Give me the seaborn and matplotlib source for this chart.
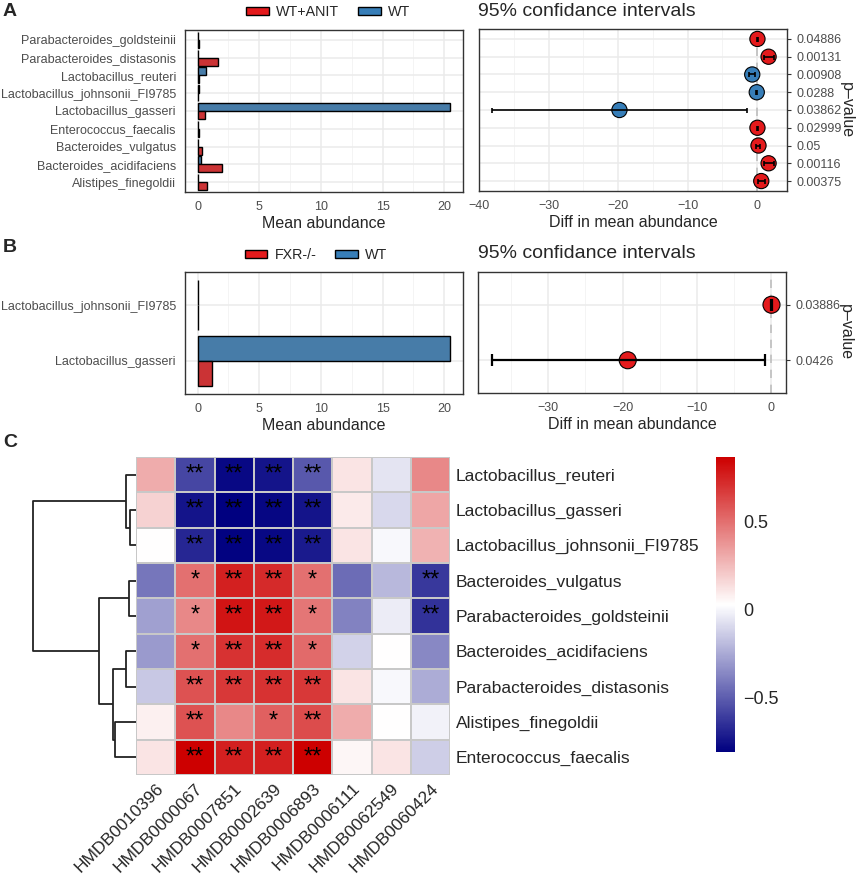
import numpy as np
import pandas as pd
import matplotlib
matplotlib.use('Agg')
import matplotlib.pyplot as plt
import seaborn as sns
from matplotlib.colors import LinearSegmentedColormap
from matplotlib.patches import Patch
from matplotlib.ticker import MultipleLocator

RED = '#E41A1C'
BLUE = '#377EB8'

# ---- panel A: WT+ANIT vs WT
taxa_a = ['Parabacteroides_goldsteinii', 'Parabacteroides_distasonis', 'Lactobacillus_reuteri',
          'Lactobacillus_johnsonii_FI9785', 'Lactobacillus_gasseri', 'Enterococcus_faecalis',
          'Bacteroides_vulgatus', 'Bacteroides_acidifaciens', 'Alistipes_finegoldii']
anit_mean = [0.10, 1.65, 0.15, 0.05, 0.60, 0.15, 0.32, 2.00, 0.75]
wt_mean_a = [0.03, 0.05, 0.68, 0.08, 20.5, 0.03, 0.05, 0.30, 0.03]
diff_a = [0.05, 1.65, -0.70, -0.05, -19.8, 0.05, 0.20, 1.65, 0.60]
lo_a = [-0.05, 0.95, -1.15, -0.12, -38.2, -0.05, -0.10, 0.95, 0.20]
hi_a = [0.15, 2.45, -0.25, 0.03, -1.5, 0.15, 0.45, 2.45, 1.15]
pcol_a = ['WT+ANIT', 'WT+ANIT', 'WT', 'WT', 'WT', 'WT+ANIT', 'WT+ANIT', 'WT+ANIT', 'WT+ANIT']
pval_a = ['0.04886', '0.00131', '0.00908', '0.0288', '0.03862', '0.02999', '0.05', '0.00116', '0.00375']

# ---- panel B: FXR-/- vs WT
taxa_b = ['Lactobacillus_johnsonii_FI9785', 'Lactobacillus_gasseri']
fxr_mean = [0.05, 1.2]
wt_mean_b = [0.05, 20.5]
diff_b = [0.0, -19.3]
lo_b = [-0.05, -37.5]
hi_b = [0.05, -0.9]
pcol_b = ['FXR-/-', 'FXR-/-']
pval_b = ['0.03886', '0.0426']

# ---- panel C: correlation heatmap
rows_c = ['Lactobacillus_reuteri', 'Lactobacillus_gasseri', 'Lactobacillus_johnsonii_FI9785',
          'Bacteroides_vulgatus', 'Parabacteroides_goldsteinii', 'Bacteroides_acidifaciens',
          'Parabacteroides_distasonis', 'Alistipes_finegoldii', 'Enterococcus_faecalis']
cols_c = ['HMDB0010396', 'HMDB0000067', 'HMDB0007851', 'HMDB0002639',
          'HMDB0006893', 'HMDB0006111', 'HMDB0062549', 'HMDB0060424']
corr_c = [
    [0.30, -0.58, -0.78, -0.74, -0.52, 0.12, -0.06, 0.42],
    [0.18, -0.74, -0.81, -0.79, -0.74, 0.10, -0.10, 0.32],
    [0.03, -0.68, -0.80, -0.78, -0.72, 0.12, 0.01, 0.28],
    [-0.42, 0.50, 0.76, 0.73, 0.50, -0.45, -0.20, -0.62],
    [-0.28, 0.42, 0.80, 0.79, 0.48, -0.38, -0.03, -0.64],
    [-0.30, 0.50, 0.70, 0.72, 0.52, -0.12, 0.03, -0.36],
    [-0.15, 0.60, 0.68, 0.70, 0.68, 0.12, 0.01, -0.24],
    [0.08, 0.60, 0.42, 0.55, 0.62, 0.30, 0.03, -0.01],
    [0.12, 0.87, 0.76, 0.76, 0.87, 0.06, 0.12, -0.13],
]
stars_c = [
    ['', '**', '**', '**', '**', '', '', ''],
    ['', '**', '**', '**', '**', '', '', ''],
    ['', '**', '**', '**', '**', '', '', ''],
    ['', '*', '**', '**', '*', '', '', '**'],
    ['', '*', '**', '**', '*', '', '', '**'],
    ['', '*', '**', '**', '*', '', '', ''],
    ['', '**', '**', '**', '**', '', '', ''],
    ['', '**', '', '*', '**', '', '', ''],
    ['', '**', '**', '**', '**', '', '', ''],
]
# row clustering: (left, right, height); ids >= 9 refer to earlier merges
merges_c = [(1, 2, 0.06), (0, 9, 0.10), (3, 4, 0.07), (5, 6, 0.10),
            (7, 8, 0.20), (12, 13, 0.22), (11, 14, 0.36), (10, 15, 1.0)]

sns.set_style('white')
plt.rcParams['font.family'] = ['Liberation Sans', 'DejaVu Sans']

W, H = 858, 876
fig = plt.figure(figsize=(W / 100, H / 100), dpi=100)


def box(x0, y0, x1, y1):
    return [x0 / W, 1 - y1 / H, (x1 - x0) / W, (y1 - y0) / H]


def gg_style(ax, minor):
    for s in ax.spines.values():
        s.set_color('#333333')
        s.set_linewidth(1.0)
    ax.xaxis.set_minor_locator(MultipleLocator(minor))
    ax.grid(True, which='major', color='#EBEBEB', lw=1.1)
    ax.grid(True, which='minor', axis='x', color='#F2F2F2', lw=0.6)
    ax.set_axisbelow(True)
    ax.tick_params(which='major', colors='#333333', labelcolor='#4D4D4D', length=3, width=0.8, labelsize=9)
    ax.tick_params(which='minor', length=0)


def bar_panel(rect, taxa, case_vals, wt_vals, case_name):
    ax = fig.add_axes(box(*rect))
    n = len(taxa)
    df = pd.DataFrame({'taxon': taxa * 2,
                       'group': [case_name] * n + ['WT'] * n,
                       'abundance': case_vals + wt_vals})
    sns.barplot(data=df, x='abundance', y='taxon', hue='group', order=taxa,
                hue_order=['WT', case_name], palette={'WT': BLUE, case_name: RED},
                orient='h', width=0.9, edgecolor='black', linewidth=1.0,
                errorbar=None, legend=False, ax=ax)
    gg_style(ax, 2.5)
    ax.set_xlim(-1.025, 21.525)
    pad = 0.56 if n > 2 else 0.59
    ax.set_ylim(n - 1 + pad, -pad)
    ax.xaxis.set_major_locator(MultipleLocator(5))
    ax.set_xlabel('Mean abundance', fontsize=11.5, labelpad=2)
    ax.set_ylabel('')
    ax.tick_params(axis='y', labelsize=9)
    return ax


def ci_panel(rect, taxa, diff, lo, hi, groups, pvals, xlim, msize, capsize, elw):
    ax = fig.add_axes(box(*rect))
    ypos = np.arange(len(taxa))
    gg_style(ax, 5)
    ax.axvline(0, color='#BEBEBE', ls=(0, (5, 4)), lw=1.2, zorder=1)
    sns.scatterplot(x=diff, y=ypos, hue=groups, palette={'WT': BLUE, 'WT+ANIT': RED, 'FXR-/-': RED},
                    s=msize, edgecolor='black', linewidth=0.8, legend=False, zorder=3, ax=ax)
    ax.errorbar(diff, ypos, xerr=[np.array(diff) - np.array(lo), np.array(hi) - np.array(diff)],
                fmt='none', ecolor='black', elinewidth=elw, capsize=capsize, capthick=elw, zorder=4)
    ax.set_xlim(*xlim)
    pad = 0.56 if len(taxa) > 2 else 0.59
    ax.set_ylim(len(taxa) - 1 + pad, -pad)
    ax.xaxis.set_major_locator(MultipleLocator(10))
    ax.set_yticks(ypos)
    ax.yaxis.tick_right()
    ax.set_yticklabels(pvals)
    ax.set_xlabel('Diff in mean abundance', fontsize=11.5, labelpad=2)
    ax.yaxis.set_label_position('right')
    ax.set_ylabel('p\u2013value', fontsize=11.5, rotation=270, labelpad=9)
    return ax


def legend_at(cx, cy, case_name):
    handles = [Patch(facecolor=RED, edgecolor='black', lw=1.0),
               Patch(facecolor=BLUE, edgecolor='black', lw=1.0)]
    fig.legend(handles, [case_name, 'WT'], loc='center', bbox_to_anchor=(cx / W, 1 - cy / H),
               ncol=2, frameon=False, fontsize=10.3, handlelength=1.6, handleheight=0.55,
               handletextpad=0.5, columnspacing=1.3, borderpad=0, borderaxespad=0)


# ---- A
bar_panel((185, 30, 463, 192), taxa_a, anit_mean, wt_mean_a, 'WT+ANIT')
ci_panel((479, 29, 787, 191), taxa_a, diff_a, lo_a, hi_a, pcol_a, pval_a,
         (-40.0, 4.3), 120, 1.8, 1.2)
legend_at(328, 12, 'WT+ANIT')
fig.text(478 / W, 1 - 11 / H, '95% confidance intervals', fontsize=14, va='center', ha='left')
fig.text(3 / W, 1 - 12 / H, 'A', fontsize=14, fontweight='bold', va='center', ha='left')

# ---- B
bar_panel((185, 272, 463, 394), taxa_b, fxr_mean, wt_mean_b, 'FXR-/-')
ci_panel((478, 272, 786, 393), taxa_b, diff_b, lo_b, hi_b, pcol_b, pval_b,
         (-39.4, 1.95), 150, 4.5, 1.6)
legend_at(316, 255, 'FXR-/-')
fig.text(478 / W, 1 - 253 / H, '95% confidance intervals', fontsize=14, va='center', ha='left')
fig.text(3 / W, 1 - 248 / H, 'B', fontsize=14, fontweight='bold', va='center', ha='left')

# ---- C
axh = fig.add_axes(box(136, 457, 450, 775))
cax = fig.add_axes(box(716, 457, 735, 752))
axd = fig.add_axes(box(30, 457, 136, 775))
cmap = LinearSegmentedColormap.from_list('nwr', ['#000080', '#FFFFFF', '#CD0000'])
corr_df = pd.DataFrame(corr_c, index=rows_c, columns=cols_c)
sns.heatmap(corr_df, cmap=cmap, vmin=-0.81, vmax=0.87, annot=np.array(stars_c), fmt='',
            annot_kws={'fontsize': 17, 'color': 'black'}, linewidths=1.3, linecolor='#C8C8C8',
            cbar_ax=cax, ax=axh)
axh.yaxis.tick_right()
axh.set_yticklabels(rows_c, rotation=0, fontsize=12.5)
axh.set_xticklabels(cols_c, rotation=45, ha='right', rotation_mode='anchor', fontsize=12.5)
axh.tick_params(length=0, pad=4)
axh.set_xlabel('')
axh.set_ylabel('')

cbar = axh.collections[0].colorbar
cbar.outline.set_visible(False)
cbar.set_ticks([-0.5, 0, 0.5])
cbar.set_ticklabels(['\u22120.5', '0', '0.5'])
cax.tick_params(length=0, labelsize=13, pad=6)

# dendrogram drawn from the merge list
ypos = {i: i + 0.5 for i in range(len(rows_c))}
hts = {i: 0.0 for i in range(len(rows_c))}
for k, (a, b, h) in enumerate(merges_c):
    node = len(rows_c) + k
    axd.plot([hts[a], h, h, hts[b]], [ypos[a], ypos[a], ypos[b], ypos[b]],
             color='#222222', lw=1.3, solid_capstyle='butt')
    ypos[node] = (ypos[a] + ypos[b]) / 2
    hts[node] = h
axd.set_xlim(1.03, 0)
axd.set_ylim(len(rows_c), 0)
axd.axis('off')
fig.text(3 / W, 1 - 442 / H, 'C', fontsize=14, fontweight='bold', va='center', ha='left')

fig.savefig('out.png', dpi=100)
